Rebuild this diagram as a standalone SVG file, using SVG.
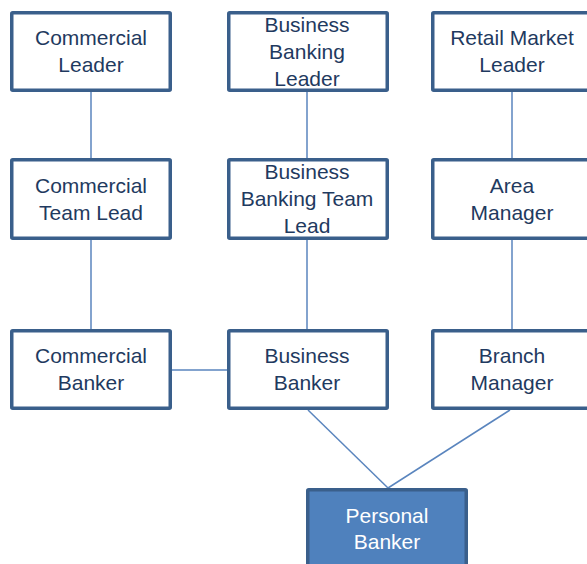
<svg xmlns="http://www.w3.org/2000/svg" width="587" height="564" viewBox="0 0 587 564">
<style>
.box{fill:#ffffff;stroke:#3A5F8B;stroke-width:3.5}
.dark{fill:#4F81BD;stroke:#3A5F8B;stroke-width:3.5}
.t{font-family:"Liberation Sans",Arial,sans-serif;font-size:21px;fill:#1F3A60;text-anchor:middle}
.tw{font-family:"Liberation Sans",Arial,sans-serif;font-size:21px;fill:#ffffff;text-anchor:middle}
.c{stroke:#5A85BE;stroke-width:1.5;fill:none}
</style>
<rect width="587" height="564" fill="#ffffff"/>
<g id="connectors">
<line class="c" x1="91" y1="92" x2="91" y2="158"/>
<line class="c" x1="307" y1="92" x2="307" y2="158"/>
<line class="c" x1="512" y1="92" x2="512" y2="158"/>
<line class="c" x1="91" y1="240" x2="91" y2="329"/>
<line class="c" x1="307" y1="240" x2="307" y2="329"/>
<line class="c" x1="512" y1="240" x2="512" y2="329"/>
<line class="c" x1="172" y1="370" x2="227" y2="370"/>
<line class="c" x1="308" y1="410" x2="388" y2="488"/>
<line class="c" x1="510" y1="410" x2="388" y2="488"/>
</g>
<g id="commercial-leader">
<rect class="box" x="11.75" y="12.75" width="158.5" height="77.5" rx="1"/>
<text class="t" x="91" y="45">Commercial</text>
<text class="t" x="91" y="72">Leader</text>
</g>
<g id="business-banking-leader">
<rect class="box" x="228.75" y="12.75" width="158.5" height="77.5" rx="1"/>
<text class="t" x="307" y="32">Business</text>
<text class="t" x="307" y="59">Banking</text>
<text class="t" x="307" y="86">Leader</text>
</g>
<g id="retail-market-leader">
<rect class="box" x="432.75" y="12.75" width="158.5" height="77.5" rx="1"/>
<text class="t" x="512" y="45">Retail Market</text>
<text class="t" x="512" y="72">Leader</text>
</g>
<g id="commercial-team-lead">
<rect class="box" x="11.75" y="159.75" width="158.5" height="78.5" rx="1"/>
<text class="t" x="91" y="193">Commercial</text>
<text class="t" x="91" y="220">Team Lead</text>
</g>
<g id="business-banking-team-lead">
<rect class="box" x="228.75" y="159.75" width="158.5" height="78.5" rx="1"/>
<text class="t" x="307" y="179">Business</text>
<text class="t" x="307" y="206">Banking Team</text>
<text class="t" x="307" y="233">Lead</text>
</g>
<g id="area-manager">
<rect class="box" x="432.75" y="159.75" width="158.5" height="78.5" rx="1"/>
<text class="t" x="512" y="193">Area</text>
<text class="t" x="512" y="220">Manager</text>
</g>
<g id="commercial-banker">
<rect class="box" x="11.75" y="330.75" width="158.5" height="77.5" rx="1"/>
<text class="t" x="91" y="363">Commercial</text>
<text class="t" x="91" y="390">Banker</text>
</g>
<g id="business-banker">
<rect class="box" x="228.75" y="330.75" width="158.5" height="77.5" rx="1"/>
<text class="t" x="307" y="363">Business</text>
<text class="t" x="307" y="390">Banker</text>
</g>
<g id="branch-manager">
<rect class="box" x="432.75" y="330.75" width="158.5" height="77.5" rx="1"/>
<text class="t" x="512" y="363">Branch</text>
<text class="t" x="512" y="390">Manager</text>
</g>
<g id="personal-banker">
<rect class="dark" x="307.75" y="489.75" width="158.5" height="80" rx="1"/>
<text class="tw" x="387" y="523">Personal</text>
<text class="tw" x="387" y="549">Banker</text>
</g>
</svg>
